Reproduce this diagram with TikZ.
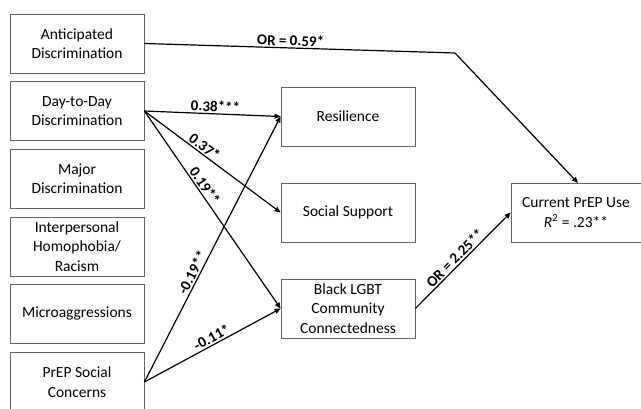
\documentclass[tikz,border=0pt]{standalone}
\usepackage{fontspec}
\setmainfont{Carlito}
\usetikzlibrary{arrows.meta}
\begin{document}
\begin{tikzpicture}[x=1pt,y=-1pt,
  box/.style={draw={rgb,255:red,100;green,100;blue,100}, line width=0.8pt, minimum width=134pt, minimum height=59pt, inner sep=0pt, align=center, font=\fontsize{15.5}{19.5}\selectfont},
  conn/.style={line width=1.2pt, -{Triangle[length=6pt,width=5pt]}},
  lab/.style={font=\bfseries\fontsize{15}{18}\selectfont, sloped, above, inner sep=1.5pt}]
\useasboundingbox (0,0) rectangle (641,409);
\node[box] (ant) at (77,43.5) {Anticipated\\Discrimination};
\node[box] (day) at (77,111) {Day-to-Day\\Discrimination};
\node[box] (maj) at (77,178.5) {Major\\Discrimination};
\node[box] (inter) at (77,246.5) {Interpersonal\\Homophobia/\\Racism};
\node[box] (micro) at (77,314) {Microaggressions};
\node[box] (prep) at (77,382) {PrEP Social\\Concerns};
\node[box] (res) at (348,116.5) {Resilience};
\node[box] (soc) at (348,212.5) {Social Support};
\node[box] (blk) at (348,308.5) {Black LGBT\\Community\\Connectedness};
\node[box, minimum width=130pt] (cur) at (576,212.5) {Current PrEP Use\\\textit{R}\textsuperscript{2} = .23**};
\coordinate (bend) at (455,53);
\coordinate (curtop) at (578,183);
\draw[line width=1.2pt] (ant.east) -- node[lab, pos=0.47] {OR = 0.59*} (bend);
\draw[conn] (bend) -- (curtop);
\draw[conn] (day.east) -- node[lab, pos=0.52] {0.38***} (res.west);
\draw[conn] (day.east) -- node[lab, pos=0.41] {0.37*} (soc.west);
\draw[conn] (day.east) -- node[lab, pos=0.40] {0.19**} (blk.west);
\draw[conn] (prep.east) -- node[lab, pos=0.40] {-0.19**} (res.west);
\draw[conn] (prep.east) -- node[lab, pos=0.52] {-0.11*} (blk.west);
\draw[conn] (blk.east) -- node[lab, pos=0.47] {OR = 2.25**} (cur.west);
\end{tikzpicture}
\end{document}
